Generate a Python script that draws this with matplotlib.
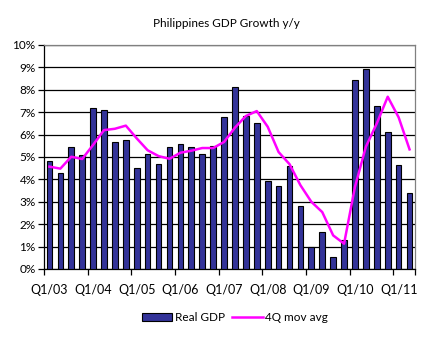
import numpy as np
import matplotlib
matplotlib.use('Agg')
import matplotlib.pyplot as plt
import matplotlib.ticker as ticker
from matplotlib.patches import Patch
from matplotlib.lines import Line2D

plt.rcParams['font.family'] = ['Lato', 'DejaVu Sans']

# quarters Q1/03 .. Q2/11
quarters = ['Q%d/%02d' % (q, y) for y in range(3, 12) for q in range(1, 5)][:34]
real_gdp = [4.8, 4.3, 5.45, 5.1, 7.2, 7.1, 5.67, 5.74, 4.5, 5.13, 4.67, 5.45,
            5.58, 5.45, 5.13, 5.49, 6.77, 8.12, 6.83, 6.52, 3.93, 3.71, 4.6, 2.8,
            0.98, 1.65, 0.54, 1.3, 8.42, 8.91, 7.26, 6.1, 4.64, 3.39]
mov_avg = [4.57, 4.48, 5.01, 4.91, 5.54, 6.2, 6.26, 6.4, 5.83, 5.3, 5.04, 4.92,
           5.19, 5.28, 5.4, 5.4, 5.67, 6.31, 6.83, 7.05, 6.35, 5.22, 4.68, 3.74,
           3.0, 2.54, 1.5, 1.13, 3.67, 5.46, 6.5, 7.69, 6.77, 5.34]
label_idx = list(range(0, 34, 4))
ylabels = ['%d%%' % v for v in range(0, 11)]

fig = plt.figure(figsize=(4.43, 3.39), dpi=100)
ax = fig.add_axes([0.0993, 0.2065, 0.8375, 0.6608])

x = np.arange(len(real_gdp))
ax.bar(x, real_gdp, width=0.52, color='#333399', edgecolor='black', linewidth=0.8, zorder=3)
ax.plot(x, mov_avg, color='#FF00FF', linewidth=1.8, zorder=4)

ax.set_xlim(-0.5, len(real_gdp) - 0.5)
ax.set_ylim(0, 10)
ax.set_yticks(range(0, 11))
ax.set_yticklabels(ylabels, fontsize=8.5)
ax.yaxis.grid(True, color='black', linewidth=0.9, zorder=0)

# tick marks between categories, labels on categories
ax.xaxis.set_major_locator(ticker.FixedLocator([i - 0.5 for i in label_idx] + [33.5]))
ax.xaxis.set_major_formatter(ticker.NullFormatter())
ax.xaxis.set_minor_locator(ticker.FixedLocator(label_idx))
ax.xaxis.set_minor_formatter(ticker.FixedFormatter([quarters[i] for i in label_idx]))
ax.tick_params(axis='x', which='major', length=4, width=0.9, color='black')
ax.tick_params(axis='x', which='minor', length=0, pad=11, labelsize=9)
ax.tick_params(axis='y', length=4, width=0.9, color='black', pad=2)

for s in ['top', 'right']:
    ax.spines[s].set_color('#808080')
    ax.spines[s].set_linewidth(0.9)
for s in ['left', 'bottom']:
    ax.spines[s].set_color('black')
    ax.spines[s].set_linewidth(0.9)

fig.text(0.51, 0.932, 'Philippines GDP Growth y/y', ha='center', va='center', fontsize=8.5)

handles = [Patch(facecolor='#333399', edgecolor='black', linewidth=0.8, label='Real GDP'),
           Line2D([0], [0], color='#FF00FF', linewidth=1.8, label='4Q mov avg')]
fig.legend(handles=handles, loc='center', bbox_to_anchor=(0.53, 0.062), ncol=2, frameon=False,
           fontsize=8.5, handlelength=2.6, handletextpad=0.2, columnspacing=0.6)

plt.savefig('out.png', dpi=100)
